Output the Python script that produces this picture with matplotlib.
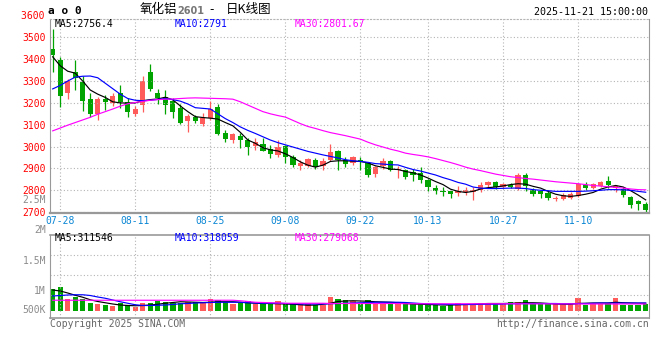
# Daily K-line chart of alumina futures 2601 (Sina style), with volume panel

import numpy as np
import pandas as pd
import matplotlib
matplotlib.use("Agg")
import matplotlib.pyplot as plt

# trading days: business days minus the National Day holiday
days = pd.bdate_range("2025-07-25", "2025-11-21")
days = days[(days < "2025-10-01") | (days > "2025-10-08")]
date_labels = [d.strftime("%m-%d") for d in days]

opens = [3445, 3398, 3246, 3343, 3294, 3217, 3147, 3220, 3200, 3247,
         3206, 3151, 3190, 3343, 3247, 3229, 3209, 3176, 3119, 3137,
         3104, 3130, 3179, 3064, 3031, 3049, 3028, 3004, 3013, 2991,
         2963, 3004, 2952, 2912, 2912, 2940, 2909, 2937, 2978, 2940,
         2927, 2940, 2925, 2874, 2909, 2932, 2894, 2894, 2882, 2879,
         2848, 2810, 2797, 2795, 2788, 2790, 2790, 2803, 2824, 2838,
         2815, 2826, 2806, 2871, 2803, 2795, 2787, 2758, 2760, 2765,
         2772, 2826, 2810, 2821, 2841, 2812, 2806, 2769, 2749, 2737]
closes = [3418, 3233, 3302, 3313, 3210, 3150, 3218, 3205, 3230, 3205,
          3160, 3174, 3300, 3262, 3221, 3191, 3160, 3110, 3141, 3115,
          3130, 3171, 3058, 3034, 3058, 3028, 3000, 3019, 2982, 2967,
          2998, 2952, 2917, 2925, 2943, 2906, 2932, 2973, 2937, 2920,
          2952, 2928, 2868, 2905, 2935, 2891, 2898, 2859, 2868, 2845,
          2815, 2795, 2793, 2783, 2798, 2803, 2803, 2826, 2836, 2815,
          2829, 2815, 2871, 2818, 2784, 2781, 2765, 2766, 2780, 2783,
          2830, 2812, 2828, 2836, 2822, 2820, 2780, 2734, 2737, 2711]
highs = [3537, 3410, 3310, 3395, 3322, 3247, 3225, 3238, 3246, 3282,
         3224, 3185, 3325, 3378, 3262, 3259, 3222, 3195, 3150, 3145,
         3156, 3209, 3197, 3077, 3060, 3064, 3039, 3039, 3039, 3008,
         3028, 3008, 2963, 2937, 2950, 2947, 2947, 3013, 2985, 2952,
         2958, 2952, 2928, 2912, 2947, 2937, 2912, 2897, 2897, 2906,
         2852, 2826, 2815, 2798, 2821, 2817, 2815, 2836, 2841, 2841,
         2833, 2835, 2879, 2879, 2810, 2798, 2795, 2772, 2788, 2790,
         2833, 2836, 2833, 2841, 2867, 2826, 2813, 2775, 2757, 2745]
lows = [3340, 3180, 3218, 3261, 3165, 3136, 3120, 3168, 3185, 3176,
        3135, 3140, 3160, 3255, 3196, 3150, 3130, 3103, 3069, 3110,
        3095, 3122, 3055, 3023, 3016, 2993, 2963, 2985, 2978, 2947,
        2952, 2927, 2906, 2891, 2905, 2897, 2894, 2932, 2891, 2906,
        2918, 2894, 2863, 2863, 2897, 2888, 2854, 2853, 2841, 2833,
        2795, 2784, 2772, 2765, 2772, 2780, 2754, 2790, 2815, 2805,
        2812, 2810, 2803, 2795, 2775, 2763, 2757, 2750, 2755, 2760,
        2768, 2803, 2805, 2815, 2810, 2790, 2768, 2719, 2711, 2702]

ma5 = [3411, 3370, 3345, 3336, 3300, 3259, 3240, 3225, 3205, 3200,
       3199, 3200, 3210, 3215, 3218, 3226, 3214, 3186, 3160, 3137,
       3133, 3130, 3126, 3110, 3095, 3065, 3030, 3015, 2995, 2985,
       2980, 2967, 2950, 2930, 2915, 2906, 2915, 2932, 2935, 2935,
       2933, 2932, 2925, 2912, 2905, 2897, 2895, 2886, 2880, 2870,
       2856, 2840, 2826, 2805, 2795, 2790, 2795, 2806, 2812, 2815,
       2820, 2826, 2830, 2828, 2818, 2810, 2795, 2782, 2775, 2772,
       2776, 2782, 2790, 2805, 2815, 2822, 2815, 2798, 2778, 2756]
ma10 = [3264, 3280, 3300, 3318, 3322, 3323, 3315, 3290, 3265, 3240,
        3220, 3212, 3210, 3212, 3216, 3220, 3215, 3208, 3195, 3178,
        3175, 3172, 3150, 3128, 3110, 3090, 3074, 3060, 3045, 3030,
        3018, 3008, 2998, 2988, 2978, 2970, 2962, 2955, 2948, 2940,
        2935, 2932, 2928, 2922, 2920, 2917, 2916, 2905, 2895, 2888,
        2879, 2870, 2858, 2848, 2836, 2828, 2815, 2810, 2808, 2808,
        2809, 2810, 2810, 2808, 2803, 2800, 2798, 2795, 2795, 2795,
        2795, 2796, 2798, 2800, 2803, 2803, 2802, 2800, 2795, 2791]
ma30 = [3072, 3085, 3098, 3110, 3122, 3134, 3148, 3160, 3172, 3185,
        3196, 3202, 3207, 3212, 3215, 3217, 3218, 3220, 3222, 3223,
        3222, 3221, 3220, 3219, 3217, 3205, 3190, 3175, 3160, 3150,
        3142, 3135, 3120, 3105, 3092, 3083, 3073, 3064, 3057, 3050,
        3042, 3034, 3020, 3008, 2998, 2988, 2980, 2970, 2964, 2959,
        2953, 2945, 2936, 2927, 2917, 2906, 2897, 2890, 2882, 2874,
        2868, 2862, 2858, 2854, 2851, 2847, 2843, 2839, 2836, 2833,
        2830, 2826, 2822, 2819, 2816, 2813, 2810, 2806, 2803, 2802]

volume = [880, 970, 480, 560, 470, 330, 290, 240, 210, 310,
          240, 170, 310, 330, 410, 370, 330, 310, 360, 360,
          310, 470, 430, 350, 290, 330, 390, 280, 280, 280,
          410, 280, 280, 280, 280, 230, 230, 550, 470, 430,
          390, 310, 440, 310, 310, 310, 310, 270, 270, 270,
          270, 230, 210, 230, 320, 290, 290, 320, 290, 270,
          320, 360, 360, 430, 270, 270, 270, 270, 270, 320,
          520, 230, 290, 290, 330, 520, 260, 260, 260, 270]  # thousands
vol_ma5 = [840, 800, 720, 630, 550, 450, 380, 330, 280, 240,
           220, 210, 220, 240, 270, 310, 340, 370, 360, 350,
           340, 350, 370, 370, 370, 350, 330, 310, 300, 300,
           290, 280, 270, 250, 230, 240, 270, 310, 380, 400,
           410, 400, 390, 370, 360, 350, 330, 300, 280, 270,
           260, 250, 240, 240, 250, 260, 270, 290, 300, 300,
           300, 310, 320, 330, 330, 320, 300, 280, 270, 270,
           300, 310, 320, 320, 320, 350, 330, 320, 310, 312]
vol_ma10 = [600, 620, 640, 650, 650, 620, 560, 510, 440, 370,
            310, 250, 220, 220, 230, 240, 260, 290, 300, 320,
            330, 340, 350, 350, 350, 350, 330, 320, 310, 310,
            310, 300, 290, 280, 280, 280, 280, 290, 300, 310,
            320, 330, 340, 350, 350, 350, 350, 340, 320, 300,
            290, 280, 270, 260, 260, 260, 260, 270, 270, 270,
            280, 290, 290, 300, 300, 300, 300, 300, 290, 290,
            300, 300, 310, 320, 320, 320, 320, 320, 320, 318]
vol_ma30 = [430, 430, 430, 430, 430, 430, 430, 430, 430, 430,
            430, 430, 430, 430, 430, 430, 430, 430, 430, 430,
            430, 430, 430, 430, 430, 410, 380, 350, 340, 330,
            320, 310, 310, 310, 310, 310, 310, 300, 300, 300,
            300, 300, 300, 300, 300, 300, 300, 290, 290, 290,
            290, 290, 290, 290, 290, 290, 290, 290, 290, 290,
            290, 290, 290, 285, 285, 285, 285, 285, 285, 285,
            285, 280, 280, 280, 280, 280, 280, 280, 280, 279]

tick_dates = ["07-28", "08-11", "08-25", "09-08", "09-22", "10-13", "10-27", "11-10"]
price_ticks = [2700, 2800, 2900, 3000, 3100, 3200, 3300, 3400, 3500]

RED = "#ff5b5b"
GREEN = "#00a400"
GRID = "#b4b4b4"
EDGE = "#999999"
MONO = "DejaVu Sans Mono"
CJK = ["Noto Sans CJK SC", "DejaVu Sans"]

W, H = 660, 360


def fx(px):
    return px / W


def fy(py):
    return 1 - py / H


x = np.arange(len(days))
o = np.array(opens)
c = np.array(closes)
up = c >= o
colors = np.where(up, RED, GREEN)
tick_x = [date_labels.index(d) for d in tick_dates]

fig = plt.figure(figsize=(6.6, 3.6), dpi=100)
ax = fig.add_axes([fx(50), fy(213), fx(599), 194 / H])
axv = fig.add_axes([fx(50), fy(318), fx(599), 83 / H])

# candles
ax.vlines(x, lows, highs, colors=colors, linewidth=0.9)
body_low = np.minimum(o, c)
body_h = np.maximum(np.abs(c - o), 2)
ax.bar(x, body_h, bottom=body_low, width=0.7, color=colors, linewidth=0)

ax.plot(x, ma5, color="black", linewidth=0.85)
ax.plot(x, ma10, color="#0000ff", linewidth=0.85)
ax.plot(x, ma30, color="#ff00ff", linewidth=0.85)

ax.set_xlim(-0.36, 79.44)
ax.set_ylim(2696, 3584)
ax.set_yticks(price_ticks)
ax.set_yticklabels([str(v) for v in price_ticks], color="red", family=MONO, fontsize=7)
ax.text(-0.36, 3600, "3600 ", color="red", family=MONO, fontsize=7,
        ha="right", va="center", clip_on=False,
        transform=ax.transData)
ax.set_xticks(tick_x)
ax.set_xticklabels(tick_dates, color="#0a86d4", family=MONO, fontsize=7)
ax.tick_params(length=0, pad=3)
ax.tick_params(axis="x", pad=2.5)
ax.grid(True, color=GRID, linestyle=(0, (1, 2)), linewidth=0.8)
for s in ["left", "right"]:
    ax.spines[s].set_color(EDGE)
ax.spines["bottom"].set_color(EDGE)
ax.spines["bottom"].set_linewidth(1.6)
ax.spines["top"].set_color(GRID)
ax.spines["top"].set_linestyle((0, (1, 2)))

# volume
vol = np.array(volume) * 1000
axv.bar(x, vol, width=0.72, color=colors, linewidth=0)
axv.plot(x, np.array(vol_ma5) * 1000, color="black", linewidth=0.85)
axv.plot(x, np.array(vol_ma10) * 1000, color="#0000ff", linewidth=0.85)
axv.plot(x, np.array(vol_ma30) * 1000, color="#ff00ff", linewidth=0.85)
axv.set_xlim(-0.36, 79.44)
axv.set_ylim(-0.28e6, 3.04e6)
axv.set_yticks([0.64e6, 1.44e6, 2.24e6])
axv.set_yticklabels([])
axv.set_xticks(tick_x)
axv.set_xticklabels([])
axv.tick_params(length=0)
axv.grid(True, color=GRID, linestyle=(0, (1, 2)), linewidth=0.8)
for s in axv.spines.values():
    s.set_color(EDGE)
axv.spines["top"].set_linewidth(1.2)
axv.spines["bottom"].set_linewidth(1.2)

# volume axis labels (as placed in the original)
for label, py in [("2.5M", 200), ("2M", 230), ("1.5M", 261), ("1M", 291), ("500K", 310)]:
    fig.text(fx(46), fy(py), label, color="#8c8c8c", family=MONO, fontsize=7,
             ha="right", va="center")

# header
fig.text(fx(48), fy(11), "a o 0", family=MONO, fontsize=8, fontweight="bold", va="center")
fig.text(fx(140), fy(10), "氧化铝", family=CJK, fontsize=9, va="center")
fig.text(fx(177), fy(11), "2601", family="DejaVu Sans", fontsize=7, fontweight="bold",
         color="#777777", va="center")
fig.text(fx(209), fy(10), "-", family="DejaVu Sans", fontsize=8.5, va="center")
fig.text(fx(226), fy(10), "日K线图", family=CJK, fontsize=9, va="center")
fig.text(fx(648), fy(12), "2025-11-21 15:00:00", family=MONO, fontsize=7.2,
         ha="right", va="center")

for txt, px, col in [("MA5:2756.4", 55, "black"), ("MA10:2791", 175, "#0000ff"),
                     ("MA30:2801.67", 295, "#ff00ff")]:
    fig.text(fx(px), fy(24), txt, family=MONO, fontsize=7, color=col, va="center")
for txt, px, col in [("MA5:311546", 55, "black"), ("MA10:318059", 175, "#0000ff"),
                     ("MA30:279068", 295, "#ff00ff")]:
    fig.text(fx(px), fy(238), txt, family=MONO, fontsize=7, color=col, va="center")

fig.text(fx(50), fy(324), "Copyright 2025 SINA.COM", family=MONO, fontsize=7,
         color="#666666", va="center")
fig.text(fx(649), fy(324), "http://finance.sina.com.cn", family=MONO, fontsize=7,
         color="#666666", ha="right", va="center")

fig.savefig("out.png", dpi=100)
